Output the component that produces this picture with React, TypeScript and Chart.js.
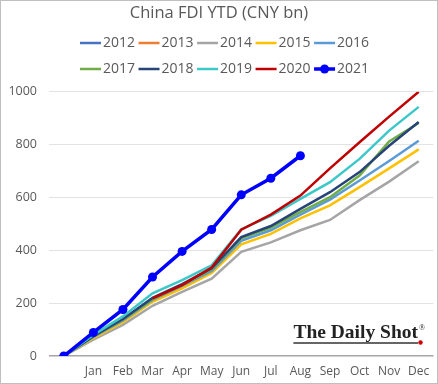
import { useEffect, useRef } from "react";
import { Chart, registerables } from "chart.js";

Chart.register(...registerables);

const months = ["", "Jan", "Feb", "Mar", "Apr", "May", "Jun", "Jul", "Aug", "Sep", "Oct", "Nov", "Dec"];
const years = ["2012", "2013", "2014", "2015", "2016", "2017", "2018", "2019", "2020", "2021"];
const colors = ["#4472C4", "#ED7D31", "#A5A5A5", "#FFC000", "#5B9BD5", "#70AD47", "#264478", "#3CC8C8", "#C00000", "#0000FF"];

const v2012: (number | null)[] = [];
const v2013: (number | null)[] = [];
const v2014: (number | null)[] = [0, 62, 118, 190, 243, 293, 394, 430, 476, 515, 590, 660, 737];
const v2015: (number | null)[] = [0, 68, 128, 205, 256, 314, 423, 462, 521, 570, 639, 710, 782];
const v2016: (number | null)[] = [0, 72, 135, 212, 265, 322, 436, 476, 535, 592, 664, 738, 815];
const v2017: (number | null)[] = [0, 74, 138, 215, 268, 328, 445, 486, 545, 601, 683, 812, 882];
const v2018: (number | null)[] = [0, 75, 140, 220, 272, 332, 450, 492, 557, 620, 696, 796, 886];
const v2019: (number | null)[] = [0, 80, 150, 237, 287, 343, 480, 530, 595, 658, 746, 853, 943];
const v2020: (number | null)[] = [null, null, null, 218, 268, 335, 478, 535, 607, 710, 809, 906, 1000];
const v2021: (number | null)[] = [0, 89, 176, 299, 396, 479, 610, 673, 758];
const seriesValues = [v2012, v2013, v2014, v2015, v2016, v2017, v2018, v2019, v2020, v2021];

const yTicks = [0, 200, 400, 600, 800, 1000];
const yTickLabels = ["0", "200", "400", "600", "800", "1000"];

const TEXT = "#595959";
const FONT = "'Open Sans', 'Noto Sans', sans-serif";

const legendPlugin = {
  id: "customLegend",
  afterDraw(chart: any) {
    const ctx = chart.ctx as CanvasRenderingContext2D;
    ctx.save();
    ctx.font = `14px ${FONT}`;
    ctx.textBaseline = "middle";
    ctx.textAlign = "left";
    const rows = [[0, 1, 2, 3, 4], [5, 6, 7, 8, 9]];
    const rowY = [43, 69];
    rows.forEach((row, r) => {
      let x = 80;
      const y = rowY[r];
      row.forEach((i) => {
        const last = i === 9;
        ctx.strokeStyle = colors[i];
        ctx.lineWidth = last ? 3.5 : 2.5;
        ctx.beginPath();
        ctx.moveTo(x, y);
        ctx.lineTo(x + 21, y);
        ctx.stroke();
        if (last) {
          ctx.fillStyle = colors[i];
          ctx.beginPath();
          ctx.arc(x + 10.5, y, 4.5, 0, Math.PI * 2);
          ctx.fill();
        }
        ctx.fillStyle = TEXT;
        ctx.fillText(years[i], x + 23, y + 0.5);
        x += 23 + ctx.measureText(years[i]).width + 3.5;
      });
    });
    ctx.restore();
  },
};

const decorPlugin = {
  id: "decor",
  afterDraw(chart: any) {
    const ctx = chart.ctx as CanvasRenderingContext2D;
    ctx.save();
    ctx.font = "bold 19.5px 'Liberation Serif', 'DejaVu Serif', serif";
    ctx.fillStyle = "#222222";
    ctx.textBaseline = "alphabetic";
    ctx.textAlign = "left";
    const wm = "The Daily Shot";
    const w = ctx.measureText(wm).width;
    const x0 = 418 - w;
    ctx.fillText(wm, x0, 338);
    ctx.strokeStyle = "#333333";
    ctx.lineWidth = 1.5;
    ctx.beginPath();
    ctx.moveTo(x0, 343);
    ctx.lineTo(418, 343);
    ctx.stroke();
    ctx.fillStyle = "#D00000";
    ctx.beginPath();
    ctx.arc(420.5, 342.5, 2.2, 0, Math.PI * 2);
    ctx.fill();
    ctx.fillStyle = "#222222";
    ctx.font = "8px 'Liberation Serif', serif";
    ctx.fillText("®", 419, 330);
    ctx.strokeStyle = "#BFBFBF";
    ctx.lineWidth = 1;
    ctx.strokeRect(0.5, 0.5, chart.width - 1, chart.height - 1);
    ctx.restore();
  },
};

export default function App() {
  const ref = useRef<HTMLCanvasElement>(null);
  useEffect(() => {
    if (!ref.current) return;
    const datasets = years.map((y, i) => {
      const last = i === 9;
      return {
        label: y,
        data: seriesValues[i],
        borderColor: colors[i],
        backgroundColor: colors[i],
        borderWidth: last ? 3.5 : 2.5,
        pointRadius: last ? 4.5 : 0,
        pointHoverRadius: last ? 4.5 : 0,
        pointBorderWidth: 0,
        tension: 0,
        spanGaps: false,
        fill: false,
        order: 9 - i,
      };
    });
    const chart = new Chart(ref.current, {
      type: "line",
      data: { labels: months, datasets },
      options: {
        animation: false,
        responsive: false,
        layout: { padding: { left: 0, right: 0, top: 0, bottom: 0 } },
        plugins: {
          legend: { display: false },
          tooltip: { enabled: false },
          title: {
            display: true,
            text: "China FDI YTD (CNY bn)",
            color: TEXT,
            font: { family: FONT, size: 16.5, weight: "normal" },
            padding: { top: 3, bottom: 69 },
          },
        },
        scales: {
          x: {
            type: "category",
            offset: true,
            grid: { display: false, drawTicks: false },
            border: { display: false },
            afterFit: (scale: any) => {
              scale.height = 28;
            },
            ticks: {
              color: TEXT,
              font: { family: FONT, size: 12 },
              padding: 8,
              autoSkip: false,
              maxRotation: 0,
            },
          },
          y: {
            min: 0,
            max: 1000,
            afterBuildTicks: (scale: any) => {
              scale.ticks = yTicks.map((v) => ({ value: v }));
            },
            afterFit: (scale: any) => {
              scale.width = 49;
            },
            grid: {
              drawTicks: false,
              color: (c: any) => (c.tick && c.tick.value === 0 ? "#A6A6A6" : "#E3E3E3"),
              lineWidth: (c: any) => (c.tick && c.tick.value === 0 ? 1.5 : 1),
            },
            border: { display: false },
            ticks: {
              color: TEXT,
              font: { family: FONT, size: 12.5 },
              padding: 12,
              callback: (_v: any, idx: number) => yTickLabels[idx],
            },
          },
        },
      },
      plugins: [legendPlugin, decorPlugin],
    });
    return () => chart.destroy();
  }, []);
  return (
    <div style={{ position: "fixed", left: 0, top: 0, width: 438, height: 384, background: "#fff" }}>
      <canvas ref={ref} width={438} height={384} style={{ display: "block" }} />
    </div>
  );
}
